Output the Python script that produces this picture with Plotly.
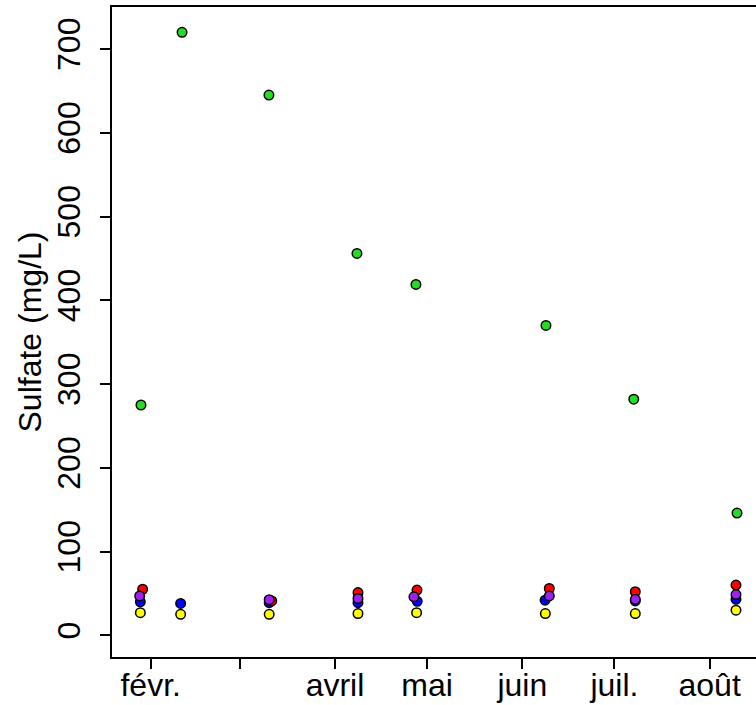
import plotly.graph_objects as go

# ---- data ----
green_dates = ["2016-01-28 20:00", "2016-02-11 05:00", "2016-03-10 12:00", "2016-04-08 04:00",
               "2016-04-27 09:00", "2016-06-08 17:00", "2016-07-07 07:00", "2016-08-09 22:00"]
green_vals = [275, 720, 645, 456, 419, 370, 282, 146]

yellow_dates = ["2016-01-28 15:00", "2016-02-10 18:00", "2016-03-10 14:00", "2016-04-08 12:00",
                "2016-04-27 14:00", "2016-06-08 12:00", "2016-07-07 19:00", "2016-08-09 14:00"]
yellow_vals = [27, 25, 25, 26, 27, 26, 26, 30]

blue_dates = ["2016-01-28 15:00", "2016-02-10 18:00", "2016-03-10 14:00", "2016-04-08 12:00",
              "2016-04-27 19:00", "2016-06-08 10:00", "2016-07-07 19:00", "2016-08-09 14:00"]
blue_vals = [40, 38, 39, 39, 40.6, 42, 41, 43]

red_dates = ["2016-01-29 09:00", "2016-03-11 10:00", "2016-04-08 12:00", "2016-04-27 17:00",
             "2016-06-09 19:00", "2016-07-07 19:00", "2016-08-09 14:00"]
red_vals = [55, 41, 51, 54, 56, 52, 60]

purple_dates = ["2016-01-28 10:00", "2016-03-10 14:00", "2016-04-08 12:00", "2016-04-26 17:00",
                "2016-06-09 19:00", "2016-07-07 19:00", "2016-08-09 14:00"]
purple_vals = [47, 42.6, 44, 46, 47, 43, 48.6]

month_ticks = ["2016-02-01", "2016-03-01", "2016-04-01", "2016-05-01",
               "2016-06-01", "2016-07-01", "2016-08-01"]
month_labels = ["févr.", "", "avril", "mai", "juin", "juil.", "août"]
y_ticks = [0, 100, 200, 300, 400, 500, 600, 700]

series = [
    (green_dates, green_vals, "#22DD22"),
    (yellow_dates, yellow_vals, "#FFFF00"),
    (blue_dates, blue_vals, "#0000FF"),
    (red_dates, red_vals, "#FF0000"),
    (purple_dates, purple_vals, "#A020F0"),
]

fig = go.Figure()
for d, v, c in series:
    fig.add_trace(go.Scatter(
        x=d, y=v, mode="markers",
        marker=dict(size=9.5, color=c, line=dict(color="black", width=1.5)),
        showlegend=False, hoverinfo="skip"))

font = "Liberation Sans, Arial, Helvetica, sans-serif"
fig.update_layout(
    width=756, height=705,
    margin=dict(l=112, r=0, t=7, b=48, autoexpand=False),
    paper_bgcolor="white", plot_bgcolor="white",
    font=dict(family=font, size=32, color="black"),
)
fig.update_xaxes(
    type="date", automargin=False,
    range=["2016-01-19 09:36", "2016-08-16 02:24"],
    tickmode="array", tickvals=month_ticks, ticktext=month_labels,
    ticks="outside", ticklen=10, tickwidth=1.5, tickcolor="black",
    showline=True, linecolor="black", linewidth=1.5, mirror=True,
    showgrid=False, zeroline=False,
    tickfont=dict(size=32),
    ticklabelstandoff=-11,
)
fig.update_yaxes(
    range=[-25.9, 750.2], automargin=False,
    tickmode="array", tickvals=y_ticks,
    tickangle=-90,
    ticks="outside", ticklen=10, tickwidth=1.5, tickcolor="black",
    showline=True, linecolor="black", linewidth=1.5, mirror=False,
    showgrid=False, zeroline=False,
    tickfont=dict(size=32),
    ticklabelstandoff=7,
    title=dict(text="Sulfate (mg/L)", font=dict(size=32), standoff=0),
)

fig.write_html(
    "out.html",
    config={"displayModeBar": False},
    post_script="document.body.style.margin='0';document.body.style.overflow='hidden';",
)
